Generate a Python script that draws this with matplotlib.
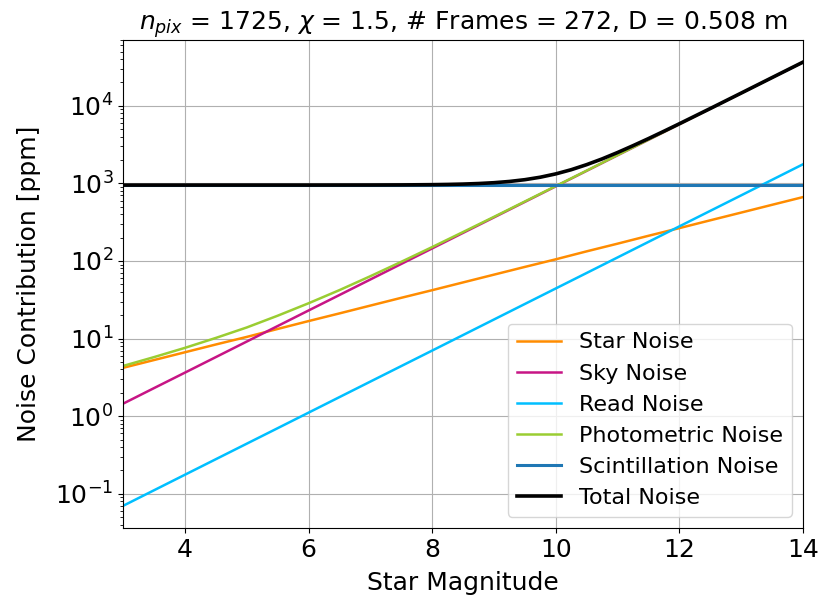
import numpy as np
import matplotlib.pyplot as plt

# magnitudes sampled every half mag
mag = [3.0, 3.5, 4.0, 4.5, 5.0, 5.5, 6.0, 6.5, 7.0, 7.5, 8.0, 8.5,
       9.0, 9.5, 10.0, 10.5, 11.0, 11.5, 12.0, 12.5, 13.0, 13.5, 14.0]

# noise contributions [ppm]
star = [4.2, 5.29, 6.66, 8.39, 10.5, 13.3, 16.8, 21.1, 26.6, 33.5, 42.0, 52.9,
        66.6, 83.8, 105, 133, 167, 211, 265, 334, 420, 529, 665]
sky = [1.45, 2.30, 3.64, 5.77, 9.15, 14.5, 23.0, 36.4, 57.7, 91.5, 145, 230,
       364, 577, 915, 1450, 2300, 3640, 5770, 9150, 14500, 23000, 36400]
read = [0.070, 0.111, 0.176, 0.279, 0.442, 0.70, 1.11, 1.76, 2.79, 4.42, 7.0, 11.1,
        17.6, 27.9, 44.2, 70, 111, 176, 279, 442, 700, 1110, 1760]
phot = [4.44, 5.77, 7.59, 10.19, 13.9, 19.7, 28.5, 42.1, 63.6, 97.5, 151, 236,
        370, 584, 922, 1458, 2309, 3650, 5783, 9160, 14520, 23030, 36450]
scint_mag = [3.0, 14.0]
scint = [950, 950]

# total sampled finer around the knee
total_mag = [3.0, 4.0, 5.0, 6.0, 7.0, 7.5, 8.0, 8.25, 8.5, 8.75, 9.0, 9.25, 9.5, 9.75,
             10.0, 10.25, 10.5, 10.75, 11.0, 11.25, 11.5, 11.75, 12.0, 12.5, 13.0, 13.5, 14.0]
total = [950.0, 950.0, 950.1, 950.4, 952.1, 955.0, 961.9, 968.6, 978.9, 994.9, 1019.5, 1057.7,
         1115, 1200.1, 1324, 1498.9, 1742, 2065.2, 2497, 3056.8, 3772, 4690.6, 5860,
         9209, 14551, 23050, 36462]

fig = plt.figure(figsize=(8.21, 6.01), dpi=100)
ax = fig.add_axes([0.150, 0.1215, 0.828, 0.812])

ax.plot(mag, star, color='darkorange', lw=1.8, label='Star Noise')
ax.plot(mag, sky, color='mediumvioletred', lw=1.8, label='Sky Noise')
ax.plot(mag, read, color='deepskyblue', lw=1.8, label='Read Noise')
ax.plot(mag, phot, color='yellowgreen', lw=1.8, label='Photometric Noise')
ax.plot(scint_mag, scint, color='tab:blue', lw=2.2, label='Scintillation Noise')
ax.plot(total_mag, total, color='black', lw=2.6, label='Total Noise')

ax.set_yscale('log')
ax.set_xlim(3, 14)
ax.grid(True)
ax.tick_params(labelsize=18)
ax.set_xlabel('Star Magnitude', fontsize=18, labelpad=7)
ax.set_ylabel('Noise Contribution [ppm]', fontsize=18, labelpad=10)
ax.set_title(r'$n_{pix}$ = 1725, $\chi$ = 1.5, # Frames = 272, D = 0.508 m', fontsize=18)
ax.legend(loc='lower right', fontsize=16)

plt.savefig('out.png')
